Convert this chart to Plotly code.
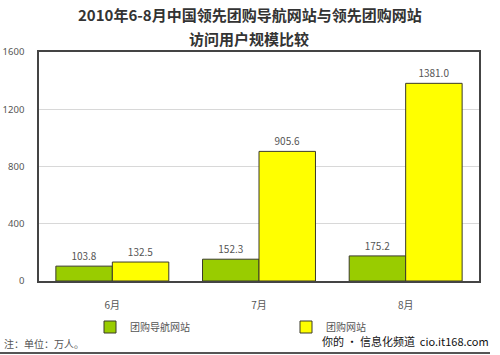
import plotly.graph_objects as go

categories = ["6月", "7月", "8月"]
nav_sites = [103.8, 152.3, 175.2]
group_sites = [132.5, 905.6, 1381.0]
series_names = ["团购导航网站", "团购网站"]
y_ticks = [0, 400, 800, 1200, 1600]
title_lines = ["2010年6-8月中国领先团购导航网站与领先团购网站", "访问用户规模比较"]

FONT = "Noto Sans CJK SC"
# plot area: x 39..479, y 52..281 (px)
def py(p):
    return (281 - p) / 229.0

fig = go.Figure()
fig.add_trace(go.Bar(
    x=categories, y=nav_sites, name=series_names[0], legend="legend",
    marker=dict(color="#99CC00", line=dict(color="#3a3a2a", width=1)),
    text=[f"{v:.1f}" for v in nav_sites], textposition="outside",
    textfont=dict(size=10, color="#555555", family=FONT), cliponaxis=False,
))
fig.add_trace(go.Bar(
    x=categories, y=group_sites, name=series_names[1], legend="legend2",
    marker=dict(color="#FFFF00", line=dict(color="#3a3a2a", width=1)),
    text=[f"{v:.1f}" for v in group_sites], textposition="outside",
    textfont=dict(size=10, color="#555555", family=FONT), cliponaxis=False,
))

leg_common = dict(
    orientation="h", yanchor="middle", y=py(327),
    font=dict(size=10, color="#555555", family=FONT),
    itemwidth=30, bgcolor="rgba(0,0,0,0)",
)
fig.update_layout(
    width=500, height=355,
    margin=dict(l=39, r=21, t=52, b=74, autoexpand=False),
    paper_bgcolor="white", plot_bgcolor="white",
    barmode="group", bargap=0.23, bargroupgap=0,
    font=dict(family=FONT, color="#555555", size=10),
    showlegend=True,
    legend=dict(x=(90 - 39) / 440, xanchor="left", **leg_common),
    legend2=dict(x=(286 - 39) / 440, xanchor="left", **leg_common),
)
fig.update_xaxes(
    showline=True, linecolor="#444444", linewidth=1.5, mirror=True,
    ticks="", ticklabelstandoff=14,
    tickfont=dict(size=10, color="#555555", family=FONT),
)
fig.update_yaxes(
    range=[0, 1600], tickvals=y_ticks,
    showgrid=True, gridcolor="#d8d8d8", gridwidth=1,
    showline=True, linecolor="#444444", linewidth=1.5, mirror=True,
    ticks="", ticklabelstandoff=11, zeroline=False,
    tickfont=dict(size=9.5, color="#555555", family="Noto Sans"),
)

fig.add_annotation(
    text="<b>" + title_lines[0] + "</b>", xref="paper", yref="paper",
    x=(250 - 39) / 440, y=py(15), xanchor="center", yanchor="middle", showarrow=False,
    font=dict(size=15, color="#333333", family=FONT),
)
fig.add_annotation(
    text="<b>" + title_lines[1] + "</b>", xref="paper", yref="paper",
    x=(249 - 39) / 440, y=py(39), xanchor="center", yanchor="middle", showarrow=False,
    font=dict(size=15, color="#333333", family=FONT),
)
fig.add_annotation(
    text="注：单位：万人。", xref="paper", yref="paper",
    x=(2 - 39) / 440, y=py(344), xanchor="left", yanchor="middle", showarrow=False,
    font=dict(size=10, color="#555555", family=FONT),
)
fig.add_annotation(
    text="你的 • 信息化频道  cio.it168.com", xref="paper", yref="paper",
    x=(491 - 39) / 440, y=py(341), xanchor="right", yanchor="middle", showarrow=False,
    font=dict(size=11, color="#111111", family=FONT),
)
fig.add_shape(
    type="line", xref="paper", yref="paper",
    x0=(0 - 39) / 440, x1=(490 - 39) / 440, y0=py(353), y1=py(353),
    line=dict(color="#555555", width=2),
)

fig.write_html("out.html")
